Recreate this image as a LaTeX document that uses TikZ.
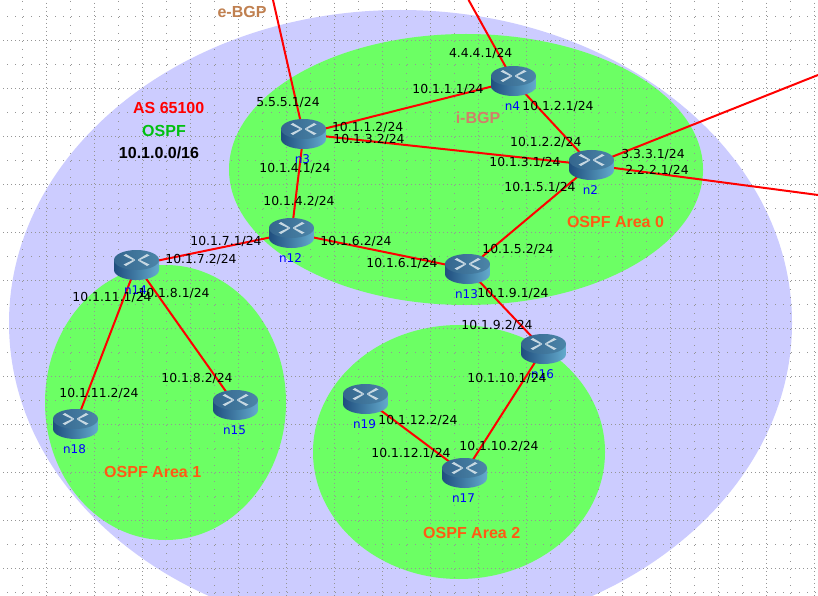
\documentclass[tikz,border=0pt]{standalone}
\usepackage{fontspec}
\setmainfont{DejaVu Sans}
\newfontfamily\headfont{Liberation Sans}
\usetikzlibrary{backgrounds}
\definecolor{asfill}{HTML}{CCCCFF}
\definecolor{areafill}{HTML}{6CFF64}
\definecolor{griddot}{HTML}{959595}
\definecolor{linkred}{HTML}{FF0000}
\definecolor{areatext}{HTML}{FF5A14}
\definecolor{bgptextb}{HTML}{C08050}
\definecolor{bgptexti}{HTML}{D0806A}
\definecolor{ospfgreen}{HTML}{00C010}
\definecolor{bodyl}{HTML}{1F4E7E}
\definecolor{bodyr}{HTML}{64ABCD}
\definecolor{topl}{HTML}{34668E}
\definecolor{topr}{HTML}{4C85A8}
\definecolor{crossc}{HTML}{C6D8E2}
\tikzset{
  x=1pt,y=-1pt,
  asarea/.style={fill=asfill,draw=none},
  areazone/.style={fill=areafill,draw=none},
  minorv/.style={griddot,line width=1pt,dash pattern=on 1pt off 7pt},
  majorv/.style={griddot,line width=1pt,dash pattern=on 1pt off 3pt},
  link/.style={linkred,line width=2pt},
  iflabel/.style={inner sep=0,text=black,font=\fontsize{12.4}{14}\selectfont,text height=9.5pt,text depth=2.5pt,anchor=center},
  namelabel/.style={inner sep=0,text=blue,font=\fontsize{12}{14}\selectfont,text height=9pt,text depth=0pt,anchor=center},
  headlabel/.style={inner sep=0,font=\headfont\bfseries\fontsize{16}{18}\selectfont,text height=11.5pt,text depth=0pt,anchor=center},
  routerbox/.style={draw=none,inner sep=0,minimum width=45pt,minimum height=30pt,
    path picture={
      \begin{scope}[shift={(path picture bounding box.center)}]
        \path[left color=bodyl,right color=bodyr]
          (-22.5,-5) -- (-22.5,5)
          .. controls (-22.5,10.5) and (-12.4,15) .. (0,15)
          .. controls (12.4,15) and (22.5,10.5) .. (22.5,5)
          -- (22.5,-5) -- cycle;
        \path[left color=topl,right color=topr] (0,-5) ellipse[x radius=22.5pt,y radius=10pt];
        \fill[crossc]
          (-13,-9.5) -- (-10.5,-11) -- (-1.5,-5.5) -- (-2.5,-4.5) -- cycle
          (-13,-0.5) -- (-10.5,1) -- (-1.5,-4.5) -- (-2.5,-5.5) -- cycle
          (13,-9.5) -- (10.5,-11) -- (1.5,-5.5) -- (2.5,-4.5) -- cycle
          (13,-0.5) -- (10.5,1) -- (1.5,-4.5) -- (2.5,-5.5) -- cycle;
      \end{scope}
    }},
}
\begin{document}
\begin{tikzpicture}
\useasboundingbox (0,0) rectangle (818,596);
\clip (0,0) rectangle (818,596);
% routers
\node[routerbox] (n3) at (303.5,134) {};
\node[routerbox] (n4) at (513.5,81) {};
\node[routerbox] (n2) at (591.5,165) {};
\node[routerbox] (n12) at (291.5,233) {};
\node[routerbox] (n14) at (136.5,265) {};
\node[routerbox] (n13) at (467.5,269) {};
\node[routerbox] (n16) at (543.5,349) {};
\node[routerbox] (n19) at (365.5,399) {};
\node[routerbox] (n17) at (464.5,473) {};
\node[routerbox] (n18) at (75.5,424) {};
\node[routerbox] (n15) at (235.5,405) {};
\coordinate (extA) at (273,0);
\coordinate (extB) at (468.6,0);
\coordinate (extC) at (818,75);
\coordinate (extD) at (818,195);
\begin{pgfonlayer}{background}
  \fill[white] (0,0) rectangle (818,596);
  \path[asarea] (400.5,323) ellipse[x radius=391.5pt,y radius=313pt];
  \path[areazone] (466,169.5) ellipse[x radius=237pt,y radius=135.5pt];
  \path[areazone] (165.5,402.5) ellipse[x radius=120.5pt,y radius=137.5pt];
  \path[areazone] (459,452) ellipse[x radius=146pt,y radius=127pt];
  \foreach \i in {0,...,16}{
    \draw[minorv] (22.5+48*\i,1) -- (22.5+48*\i,596);
    \draw[majorv] (46.5+48*\i,3) -- (46.5+48*\i,596);
  }
  \foreach \i in {0,...,12}{
    \draw[minorv] (7,16.5+48*\i) -- (818,16.5+48*\i);
    \draw[majorv] (3,40.5+48*\i) -- (818,40.5+48*\i);
  }
  \draw[link] (n3.center) -- (extA);
  \draw[link] (n4.center) -- (extB);
  \draw[link] (n2.center) -- (extC);
  \draw[link] (n2.center) -- (extD);
  \draw[link] (n3.center) -- (n4.center);
  \draw[link] (n3.center) -- (n2.center);
  \draw[link] (n3.center) -- (n12.center);
  \draw[link] (n4.center) -- (n2.center);
  \draw[link] (n2.center) -- (n13.center);
  \draw[link] (n12.center) -- (n14.center);
  \draw[link] (n12.center) -- (n13.center);
  \draw[link] (n13.center) -- (n16.center);
  \draw[link] (n14.center) -- (n18.center);
  \draw[link] (n14.center) -- (n15.center);
  \draw[link] (n16.center) -- (n17.center);
  \draw[link] (n19.center) -- (n17.center);
\end{pgfonlayer}
% router names
\node[namelabel] (ln3) at (302.5,159) {n3};
\node[namelabel] (ln4) at (512.5,106) {n4};
\node[namelabel] (ln2) at (590.5,190) {n2};
\node[namelabel] (ln12) at (290.5,258) {n12};
\node[namelabel] (ln14) at (135.5,290) {n14};
\node[namelabel] (ln13) at (466.5,294) {n13};
\node[namelabel] (ln16) at (542.5,374) {n16};
\node[namelabel] (ln19) at (364.5,424) {n19};
\node[namelabel] (ln17) at (463.5,498) {n17};
\node[namelabel] (ln18) at (74.5,449) {n18};
\node[namelabel] (ln15) at (234.5,430) {n15};
% interface labels
\node[iflabel] (a1) at (480.7,54) {4.4.4.1/24};
\node[iflabel] (a2) at (288,103) {5.5.5.1/24};
\node[iflabel] (a3) at (448,90) {10.1.1.1/24};
\node[iflabel] (a4) at (367.7,128) {10.1.1.2/24};
\node[iflabel] (a5) at (369,140) {10.1.3.2/24};
\node[iflabel] (a6) at (295,169) {10.1.4.1/24};
\node[iflabel] (a7) at (299,202) {10.1.4.2/24};
\node[iflabel] (a8) at (558,107) {10.1.2.1/24};
\node[iflabel] (a9) at (545.8,143) {10.1.2.2/24};
\node[iflabel] (a10) at (525,163) {10.1.3.1/24};
\node[iflabel] (a11) at (653,155) {3.3.3.1/24};
\node[iflabel] (a12) at (657,171) {2.2.2.1/24};
\node[iflabel] (a13) at (540,188) {10.1.5.1/24};
\node[iflabel] (a14) at (226,242) {10.1.7.1/24};
\node[iflabel] (a15) at (201,260) {10.1.7.2/24};
\node[iflabel] (a16) at (174,294) {10.1.8.1/24};
\node[iflabel] (a17) at (112,298) {10.1.11.1/24};
\node[iflabel] (a18) at (356,242) {10.1.6.2/24};
\node[iflabel] (a19) at (402,264) {10.1.6.1/24};
\node[iflabel] (a20) at (518,250) {10.1.5.2/24};
\node[iflabel] (a21) at (513,294) {10.1.9.1/24};
\node[iflabel] (a22) at (497,326) {10.1.9.2/24};
\node[iflabel] (a23) at (507,379) {10.1.10.1/24};
\node[iflabel] (a24) at (418,421) {10.1.12.2/24};
\node[iflabel] (a25) at (411,454) {10.1.12.1/24};
\node[iflabel] (a26) at (499,447) {10.1.10.2/24};
\node[iflabel] (a27) at (99,394) {10.1.11.2/24};
\node[iflabel] (a28) at (197,379) {10.1.8.2/24};
% headings
\node[headlabel,text=bgptextb] (h1) at (242,12) {e-BGP};
\node[headlabel,text=bgptexti] (h2) at (478,118) {i-BGP};
\node[headlabel,text=red] (h3) at (168.7,107.5) {AS 65100};
\node[headlabel,text=ospfgreen] (h4) at (164,130.5) {OSPF};
\node[headlabel,text=black] (h5) at (159,152.5) {10.1.0.0/16};
\node[headlabel,text=areatext] (h6) at (615.5,222) {OSPF Area 0};
\node[headlabel,text=areatext] (h7) at (152.7,472) {OSPF Area 1};
\node[headlabel,text=areatext] (h8) at (471.7,533) {OSPF Area 2};
\end{tikzpicture}
\end{document}
